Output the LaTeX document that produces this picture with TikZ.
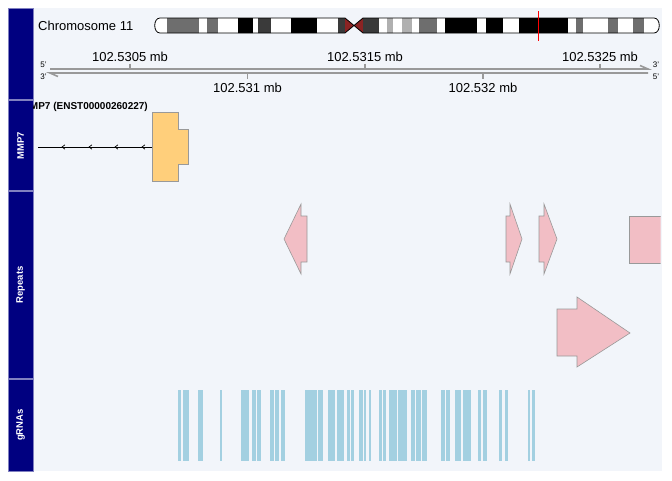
\documentclass[tikz,border=0pt]{standalone}
\usepackage{fontspec}
\setmainfont{Liberation Sans}
\begin{document}
\begin{tikzpicture}[x=1pt,y=-1pt]
\definecolor{panel}{HTML}{000080}
\definecolor{panelborder}{HTML}{8080C0}
\definecolor{bgc}{HTML}{F2F5FA}
\definecolor{bandg}{HTML}{6E6E6E}
\definecolor{bandd}{HTML}{3A3A3A}
\definecolor{bandl}{HTML}{B0B0B0}
\definecolor{cen}{HTML}{8B2323}
\definecolor{exon}{HTML}{FFCF7B}
\definecolor{rep}{HTML}{F2BEC5}
\definecolor{grna}{HTML}{A3D0E1}
\definecolor{axisc}{HTML}{999999}
\tikzset{
  paneltitle/.style={text=white, font=\bfseries\fontsize{9.5}{11}\selectfont, rotate=90, inner sep=0pt},
  ticklab/.style={font=\fontsize{13}{15}\selectfont, inner sep=0pt},
  strandlab/.style={font=\fontsize{8}{9}\selectfont, inner sep=0pt},
  featbox/.style={draw=axisc, line width=0.6},
  axisline/.style={draw=axisc, line width=1.6},
}
\useasboundingbox (0,0) rectangle (672,480);
\fill[white] (0,0) rectangle (672,480);
\fill[bgc] (33,8) rectangle (662,471);
% panels
\foreach \a/\b in {8/99.5, 100.5/190.5, 191.5/378, 379/471}
  \filldraw[fill=panel, draw=panelborder, line width=0.8] (8,\a) rectangle (33,\b);
\node[paneltitle] (tmmp) at (20.5,145.5) {MMP7};
\node[paneltitle] (trep) at (20.5,285) {Repeats};
\node[paneltitle] (tgrna) at (20.5,425) {gRNAs};
% ideogram
\node[anchor=west, font=\fontsize{13}{15}\selectfont, inner sep=0pt] (chr) at (38,26) {Chromosome 11};
\begin{scope}
\clip (160,18) -- (345,18) -- (354,25.5) -- (363,18) -- (654,18)
   .. controls (661,18) and (661,33) .. (654,33) -- (363,33) -- (354,25.5) -- (345,33) -- (160,33)
   .. controls (153,33) and (153,18) .. (160,18) -- cycle;
\fill[white] (150,15) rectangle (665,36);
\foreach \p/\q/\c in {167/199/bandg, 207/218/bandg, 238/253/black, 258/271/bandd, 291/317/black,
   338/345/bandd, 345/363/cen, 363/379/bandd, 387/393/bandl, 402/412/bandl, 419/437/bandg,
   445/477/black, 486/503/black, 519/568/black, 576/583/bandg, 608/618/bandg, 633/644/bandg}
  \fill[\c] (\p,15) rectangle (\q,36);
\end{scope}
\draw[line width=0.8] (160,18) -- (345,18) -- (354,25.5) -- (363,18) -- (654,18)
   .. controls (661,18) and (661,33) .. (654,33) -- (363,33) -- (354,25.5) -- (345,33) -- (160,33)
   .. controls (153,33) and (153,18) .. (160,18) -- cycle;
\coordinate (rt) at (538,11);
\coordinate (rb) at (538,41);
\draw[red, line width=1] (rt) -- (rb);
% axis
\coordinate (a1) at (50,69);
\coordinate (a2) at (648,69);
\coordinate (a2b) at (640,65.5);
\coordinate (b1) at (50,73);
\coordinate (b2) at (648,73);
\coordinate (b1b) at (58,76.5);
\draw[axisline] (a1) -- (a2) -- (a2b);
\draw[axisline] (b2) -- (b1) -- (b1b);
\foreach \x in {130,365,600} \draw[axisc, line width=1.2] (\x,63.5) -- (\x,69);
\foreach \x in {247.5,483} \draw[axisc, line width=1.2] (\x,73) -- (\x,78.5);
\node[ticklab] (l1) at (130,57) {102.5305 mb};
\node[ticklab] (l2) at (365,57) {102.5315 mb};
\node[ticklab] (l3) at (600,57) {102.5325 mb};
\node[ticklab] (l4) at (247.5,88) {102.531 mb};
\node[ticklab] (l5) at (483,88) {102.532 mb};
\node[strandlab] (s1) at (43.5,65) {5'};
\node[strandlab] (s2) at (43.5,76.5) {3'};
\node[strandlab] (s3) at (656,65) {3'};
\node[strandlab] (s4) at (656,76.5) {5'};
% MMP7 track
\begin{scope}
\clip (33,100) rectangle (662,190);
\node[anchor=east, font=\bfseries\fontsize{10}{12}\selectfont, inner sep=0pt] (gname) at (148,107) {MMP7 (ENST00000260227)};
\end{scope}
\coordinate (g0) at (38,147);
\coordinate (g1) at (152,147);
\draw[line width=0.8] (g0) -- (g1);
\foreach \x in {62,89,115,142} \draw[line width=0.7] (\x+3,144.8) -- (\x,147) -- (\x+3,149.2);
\filldraw[fill=exon, featbox] (152,112) -- (178,112) -- (178,129) -- (188,129) -- (188,164) -- (178,164) -- (178,181) -- (152,181) -- cycle;
% Repeats
\filldraw[fill=rep, featbox] (284,239) -- (301,204) -- (301,216) -- (307,216) -- (307,262) -- (301,262) -- (301,274) -- cycle;
\filldraw[fill=rep, featbox] (522,239) -- (510,204) -- (510,216) -- (506,216) -- (506,262) -- (510,262) -- (510,274) -- cycle;
\filldraw[fill=rep, featbox] (557,239) -- (544,204) -- (544,216) -- (539,216) -- (539,262) -- (544,262) -- (544,274) -- cycle;
\begin{scope}
\clip (33,192) rectangle (660.5,378);
\filldraw[fill=rep, featbox] (629,216) rectangle (670,263);
\end{scope}
\filldraw[fill=rep, featbox] (630,333) -- (577,297) -- (577,309) -- (557,309) -- (557,356) -- (577,356) -- (577,367) -- cycle;
% gRNAs
\foreach \p/\q in {178/181, 182.7/188.7, 197.7/203, 220/222.3, 240.7/246.7, 247.3/249, 251.7/256, 256.6/260.5,
   269.7/273.7, 275.3/279.3, 281.3/285.3, 305.3/317, 318/323.3, 327.7/334.7, 337.3/343.7, 347.3/350, 350.6/353.7,
   359/363, 364/366.3, 368.7/370.7, 379/382, 383.3/386, 389/397, 397.6/406.7, 411/415.3, 416/421.3, 422/426.7,
   441/445, 445.6/450, 455/461, 463.3/471, 478.3/481, 483.3/487.3, 499.3/502, 505/508, 527.7/530.3, 532.3/535}
  \fill[grna] (\p,390) rectangle (\q,461);
\end{tikzpicture}
\end{document}
